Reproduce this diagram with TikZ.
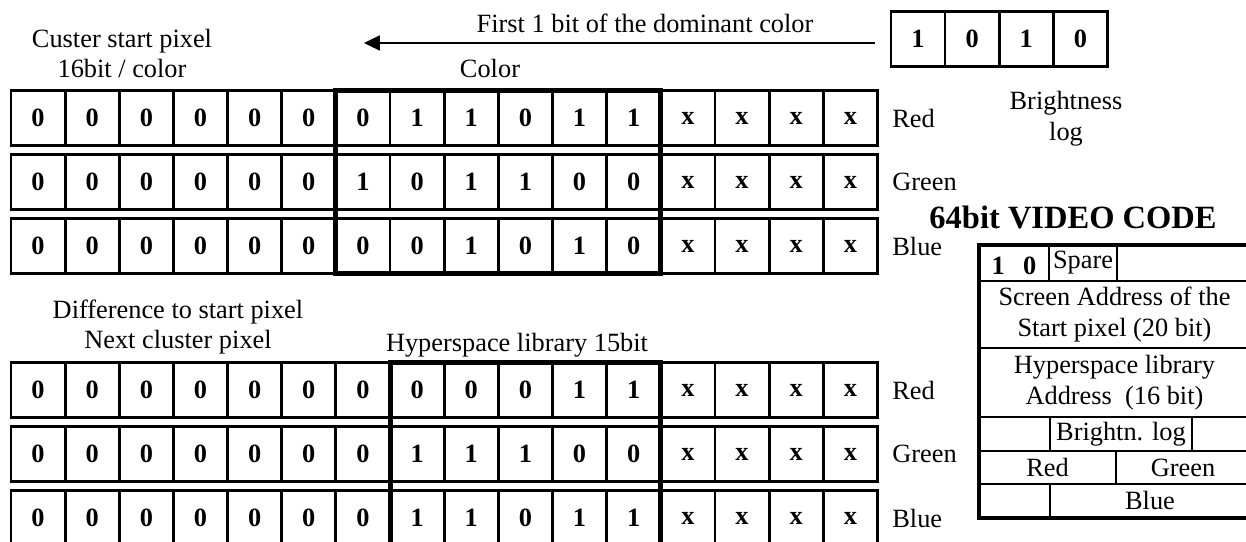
\documentclass[tikz,border=0pt]{standalone}
\usepackage{fontspec}
\setmainfont{Liberation Serif}
\usetikzlibrary{positioning,arrows.meta}
\newcommand{\txt}{\fontsize{15}{17.5}\selectfont}
\tikzstyle{bit}=[draw, line width=1.6pt, outer sep=0pt, inner sep=0pt, minimum width=1.083cm, minimum height=1.1cm, font=\txt\bfseries]
\tikzstyle{grp}=[draw, line width=2.8pt]
\tikzstyle{lbl}=[inner sep=0pt, outer sep=0pt, align=center]
\tikzstyle{cell}=[draw, line width=0.8pt, outer sep=0pt, inner sep=1pt, align=center]
\tikzstyle{frame}=[draw, line width=1.8pt]
\tikzstyle{arrow}=[draw, line width=1.1pt, -{Triangle[length=9pt, width=8.5pt]}]

\begin{document}
\begin{tikzpicture}[x=0.02cm, y=-0.02cm, font=\txt]
    \useasboundingbox (0,0) rectangle (1246,541);
    \clip (0,0) rectangle (1246,541);

    % start pixel, one row per colour
    \foreach \row [count=\i] in {{0,0,0,0,0,0,0,1,1,0,1,1,x,x,x,x},{0,0,0,0,0,0,1,0,1,1,0,0,x,x,x,x},{0,0,0,0,0,0,0,0,1,0,1,0,x,x,x,x}}
        \foreach \b [count=\j] in \row
            \node[bit] (t-\i-\j) at ({11+54.15*(\j-0.5)}, {118+64*(\i-1)}) {\b};
    \path[grp] (t-1-7.north west) rectangle (t-3-12.south east);

    % next cluster pixel
    \foreach \row [count=\i] in {{0,0,0,0,0,0,0,0,0,0,1,1,x,x,x,x},{0,0,0,0,0,0,0,1,1,1,0,0,x,x,x,x},{0,0,0,0,0,0,0,1,1,0,1,1,x,x,x,x}}
        \foreach \b [count=\j] in \row
            \node[bit] (b-\i-\j) at ({11+54.15*(\j-0.5)}, {390+64*(\i-1)}) {\b};
    \path[grp] (b-1-8.north west) rectangle (b-3-12.south east);

    \foreach \c [count=\i] in {Red,Green,Blue} {
        \node[lbl, right=0.3cm of t-\i-16] (tc\i) {\c};
        \node[lbl, right=0.3cm of b-\i-16] (bc\i) {\c};
    }

    \node[lbl] (cs) at (122,53.5) {Custer start pixel\\16bit / color};
    \node[lbl, anchor=base] (col) at (490,77) {Color};
    \node[lbl] (nc) at (178,327) {Difference to start pixel\\Next cluster pixel};
    \node[lbl, anchor=base] (hl) at (517,351) {Hyperspace library 15bit};

    % brightness log and its arrow
    \node[bit] (k1) at (918,39) {1};
    \node[bit, right=0pt of k1] (k2) {0};
    \node[bit, right=0pt of k2] (k3) {1};
    \node[bit, right=0pt of k3] (k4) {0};
    \node[lbl] (bl) at (1066,119) {Brightness\\log};
    \coordinate (tip) at (364,43);
    \path[arrow, shorten <=0.32cm] (k1.west |- tip) -- (tip);
    \node[lbl, anchor=base] (fb) at (645,32) {First 1 bit of the dominant color};

    % 64 bit code word
    \node[lbl, anchor=base, font=\fontsize{18.5}{21}\selectfont\bfseries] (vc) at (1073,228) {64bit VIDEO CODE};
    \node[cell, minimum width=1.4cm, minimum height=0.72cm, text height=0.48cm, font=\txt\bfseries] (v1) at (1014,263) {1\hspace{0.7em}0};
    \node[cell, right=0pt of v1, minimum width=1.36cm, minimum height=0.72cm] (sp) {Spare};
    \node[cell, anchor=north west, minimum width=5.42cm, minimum height=1.34cm] (v2) at (v1.south west) {Screen Address of the\\Start pixel (20 bit)};
    \node[cell, anchor=north west, minimum width=5.42cm, minimum height=1.38cm] (v3) at (v2.south west) {Hyperspace library\\Address~~(16 bit)};
    \node[cell, anchor=north west, minimum width=1.42cm, minimum height=0.68cm] (v4a) at (v3.south west) {};
    \node[cell, right=0pt of v4a, minimum width=2.84cm, minimum height=0.68cm] (v4b) {Brightn. log};
    \node[cell, right=0pt of v4b, minimum width=1.16cm, minimum height=0.68cm] (v4c) {};
    \node[cell, anchor=north west, minimum width=2.74cm, minimum height=0.66cm] (v5a) at (v4a.south west) {Red};
    \node[cell, right=0pt of v5a, minimum width=2.68cm, minimum height=0.66cm] (v5b) {Green};
    \node[cell, anchor=north west, minimum width=1.42cm, minimum height=0.68cm] (v6a) at (v5a.south west) {};
    \node[cell, right=0pt of v6a, minimum width=4cm, minimum height=0.68cm] (v6b) {Blue};
    \path[frame] (v1.north west) rectangle (v6b.south east);
\end{tikzpicture}
\end{document}
